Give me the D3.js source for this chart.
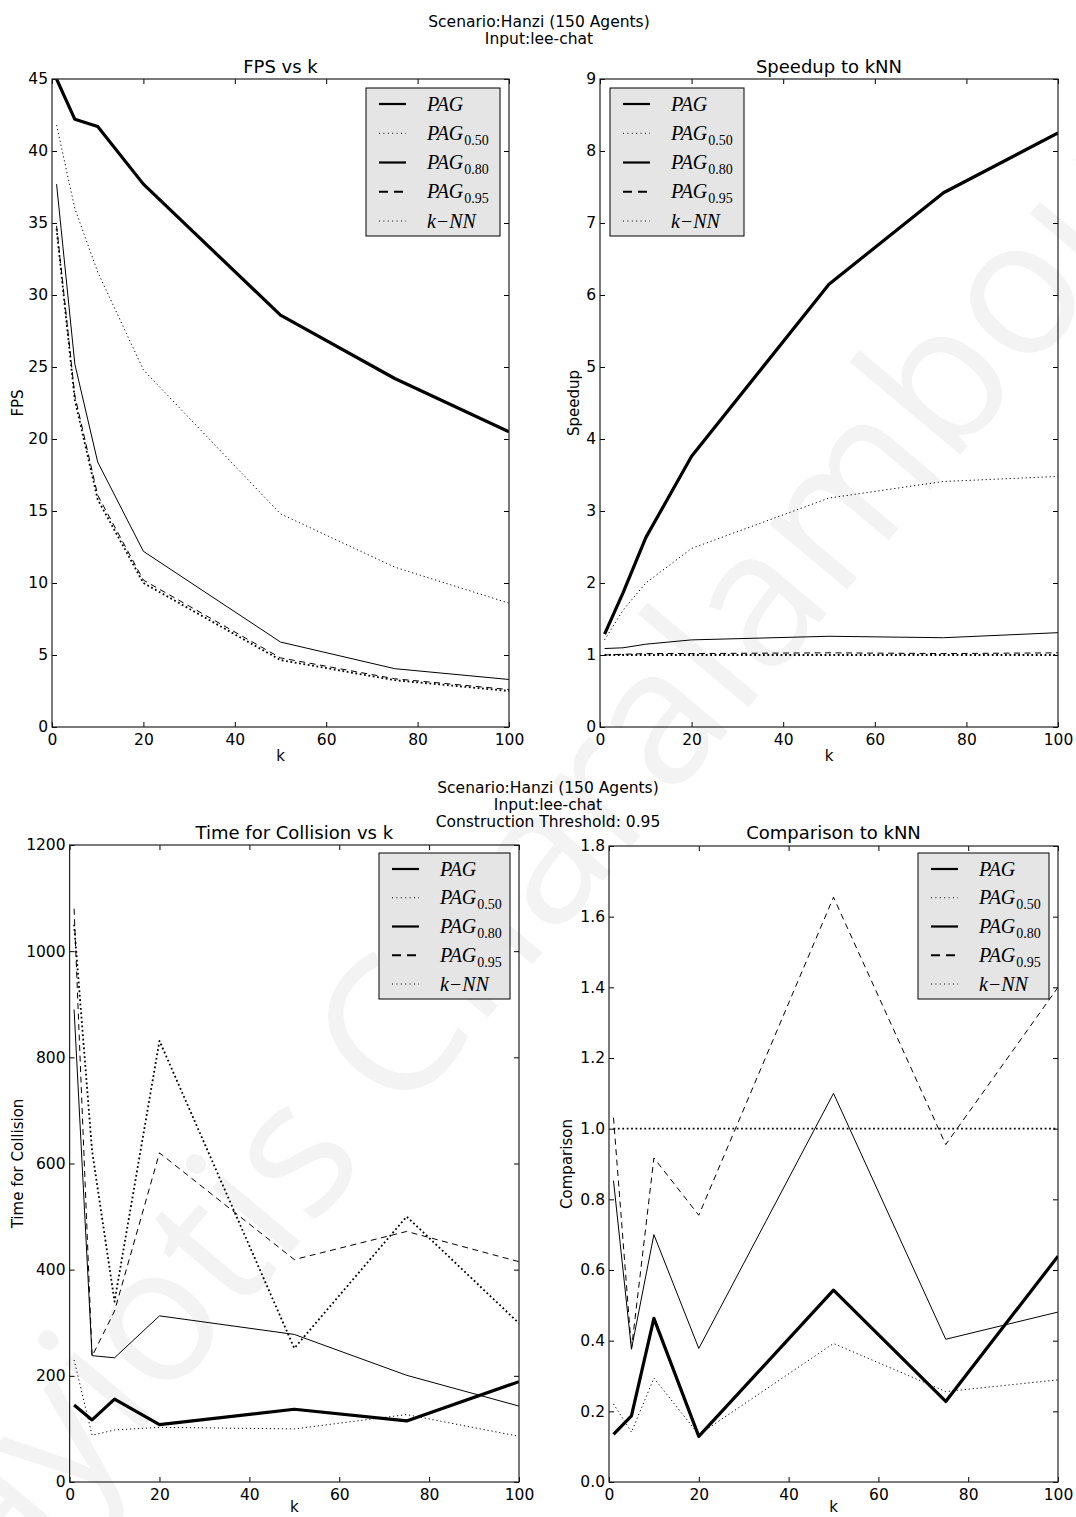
<!DOCTYPE html>
<html>
<head>
<meta charset="utf-8">
<script src="https://cdn.jsdelivr.net/npm/d3@7"></script>
<style>
  body { margin: 0; background: #fff; }
  svg { display: block; }
  text { font-family: "DejaVu Sans", sans-serif; fill: #000; }
</style>
</head>
<body>
<svg id="fig" width="1076" height="1517"></svg>
<script>
// k values (number of nearest neighbours) used in every experiment
const ks = [1, 5, 10, 20, 50, 75, 100];

// Frames per second
const fpsPAG    = [45.0, 42.2, 41.7, 37.7, 28.6, 24.2, 20.5];
const fpsPAG050 = [41.8, 36.0, 31.6, 24.8, 14.8, 11.1, 8.6];
const fpsPAG080 = [37.7, 25.2, 18.4, 12.2, 5.9, 4.05, 3.3];
const fpsPAG095 = [34.8, 23.0, 16.1, 10.2, 4.8, 3.35, 2.6];
const fpsKNN    = [34.6, 22.7, 15.8, 10.0, 4.65, 3.25, 2.5];

// Speedup relative to k-NN
const spPAG    = [1.29, 1.86, 2.63, 3.76, 6.15, 7.42, 8.25];
const spPAG050 = [1.21, 1.62, 2.00, 2.48, 3.18, 3.41, 3.48];
const spPAG080 = [1.09, 1.10, 1.15, 1.21, 1.26, 1.24, 1.31];
const spPAG095 = [1.00, 1.01, 1.02, 1.02, 1.03, 1.02, 1.03];
const spKNN    = [1.00, 1.00, 1.00, 1.00, 1.00, 1.00, 1.00];

// Time for collision
const tcPAG    = [145, 117, 156, 108, 137, 115, 189];
const tcPAG050 = [230, 88, 98, 103, 100, 127, 86];
const tcPAG080 = [890, 238, 234, 313, 278, 201, 143];
const tcPAG095 = [1080, 237, 322, 620, 419, 472, 415];
const tcKNN    = [1050, 624, 340, 831, 252, 500, 299];

// Comparison relative to k-NN
const cmPAG    = [0.135, 0.187, 0.463, 0.129, 0.543, 0.228, 0.639];
const cmPAG050 = [0.221, 0.141, 0.294, 0.134, 0.392, 0.256, 0.289];
const cmPAG080 = [0.853, 0.376, 0.700, 0.378, 1.100, 0.404, 0.481];
const cmPAG095 = [1.031, 0.376, 0.917, 0.755, 1.655, 0.955, 1.400];
const cmKNN    = [1.00, 1.00, 1.00, 1.00, 1.00, 1.00, 1.00];

// Tick values
const kTicks   = [0, 20, 40, 60, 80, 100];
const fpsTicks = [0, 5, 10, 15, 20, 25, 30, 35, 40, 45];
const spTicks  = [0, 1, 2, 3, 4, 5, 6, 7, 8, 9];
const tcTicks  = [0, 200, 400, 600, 800, 1000, 1200];
const cmTicks  = [0.0, 0.2, 0.4, 0.6, 0.8, 1.0, 1.2, 1.4, 1.6, 1.8];

// Series order and legend labels
const seriesKeys = ["PAG", "PAG050", "PAG080", "PAG095", "kNN"];
const legendSubs = [null, "0.50", "0.80", "0.95", null];

// Drawing styles per series
const lineStyle = {
  PAG:    { width: 3.2, dash: null },
  PAG050: { width: 1.0, dash: "1.2,2.8" },
  PAG080: { width: 1.0, dash: null },
  PAG095: { width: 1.0, dash: "6,4.5" },
  kNN:    { width: 1.8, dash: "1.8,2.6" }
};
const legendStyle = {
  PAG:    { width: 2.2, dash: null },
  PAG050: { width: 1.0, dash: "1,3.4" },
  PAG080: { width: 2.2, dash: null },
  PAG095: { width: 2.0, dash: "9,6" },
  kNN:    { width: 1.0, dash: "1,3.4" }
};

const svg = d3.select("#fig");

// Faint diagonal name across the whole sheet, behind the plots
svg.append("text")
  .attr("transform", "translate(470,960) rotate(-50)")
  .attr("text-anchor", "middle")
  .attr("dominant-baseline", "middle")
  .style("font-family", "'Open Sans', 'DejaVu Sans', sans-serif")
  .style("font-size", "190px")
  .style("fill", "#f3f3f3")
  .text("Panayiotis Charalambous");

// Figure-level headings
function heading(cx, lines, firstBaseline, step) {
  lines.forEach((t, i) => {
    svg.append("text")
      .attr("x", cx).attr("y", firstBaseline + i * step)
      .attr("text-anchor", "middle")
      .style("font-size", "15.5px")
      .text(t);
  });
}
heading(539, ["Scenario:Hanzi (150 Agents)", "Input:lee-chat"], 26.5, 17.5);
heading(548, ["Scenario:Hanzi (150 Agents)", "Input:lee-chat", "Construction Threshold: 0.95"], 793, 17);

const panels = [
  {
    id: "fps", x0: 52, x1: 509, y0: 79, y1: 727,
    yDomain: [0, 45], yTicks: fpsTicks, yFmt: d3.format("d"),
    title: "FPS vs k", titleY: 73, ylabel: "FPS", ylabelX: 18, xlabelY: 761,
    data: { PAG: fpsPAG, PAG050: fpsPAG050, PAG080: fpsPAG080, PAG095: fpsPAG095, kNN: fpsKNN },
    legend: { x: 366, y: 88, w: 134, h: 148 }
  },
  {
    id: "speedup", x0: 600, x1: 1058, y0: 79, y1: 727,
    yDomain: [0, 9], yTicks: spTicks, yFmt: d3.format("d"),
    title: "Speedup to kNN", titleY: 73, ylabel: "Speedup", ylabelX: 574, xlabelY: 761,
    data: { PAG: spPAG, PAG050: spPAG050, PAG080: spPAG080, PAG095: spPAG095, kNN: spKNN },
    legend: { x: 610, y: 88, w: 134, h: 148 }
  },
  {
    id: "ttc", x0: 69.6, x1: 519, y0: 845, y1: 1482,
    yDomain: [0, 1200], yTicks: tcTicks, yFmt: d3.format("d"),
    title: "Time for Collision vs k", titleY: 839, ylabel: "Time for Collision", ylabelX: 18, xlabelY: 1512,
    data: { PAG: tcPAG, PAG050: tcPAG050, PAG080: tcPAG080, PAG095: tcPAG095, kNN: tcKNN },
    legend: { x: 379, y: 853, w: 131, h: 146 }
  },
  {
    id: "cmp", x0: 609, x1: 1058, y0: 846, y1: 1482,
    yDomain: [0, 1.8], yTicks: cmTicks, yFmt: d3.format(".1f"),
    title: "Comparison to kNN", titleY: 839, ylabel: "Comparison", ylabelX: 567, xlabelY: 1512,
    data: { PAG: cmPAG, PAG050: cmPAG050, PAG080: cmPAG080, PAG095: cmPAG095, kNN: cmKNN },
    legend: { x: 918, y: 853, w: 131, h: 146 }
  }
];

panels.forEach(p => {
  const x = d3.scaleLinear().domain([0, 100]).range([p.x0, p.x1]);
  const y = d3.scaleLinear().domain(p.yDomain).range([p.y1, p.y0]);
  const g = svg.append("g").attr("class", "panel-" + p.id);

  // clip lines to the axes area
  const clipId = "clip-" + p.id;
  g.append("clipPath").attr("id", clipId)
    .append("rect")
    .attr("x", p.x0).attr("y", p.y0)
    .attr("width", p.x1 - p.x0).attr("height", p.y1 - p.y0);

  // series
  const line = d3.line().x((d, i) => x(ks[i])).y(d => y(d));
  const lines = g.append("g").attr("clip-path", `url(#${clipId})`);
  seriesKeys.forEach(key => {
    const st = lineStyle[key];
    lines.append("path")
      .datum(p.data[key])
      .attr("d", line)
      .attr("fill", "none")
      .attr("stroke", "#000")
      .attr("stroke-width", st.width)
      .attr("stroke-linejoin", "round")
      .attr("stroke-dasharray", st.dash);
  });

  // axes: ticks pointing inward on all four sides
  const tickLen = 5;
  const fontPx = "15.5px";
  const bottom = g.append("g").attr("transform", `translate(0,${p.y1})`)
    .call(d3.axisBottom(x).tickValues(kTicks).tickSize(-tickLen).tickPadding(7).tickFormat(d3.format("d")));
  const top = g.append("g").attr("transform", `translate(0,${p.y0})`)
    .call(d3.axisTop(x).tickValues(kTicks).tickSize(-tickLen).tickFormat(""));
  const left = g.append("g").attr("transform", `translate(${p.x0},0)`)
    .call(d3.axisLeft(y).tickValues(p.yTicks).tickSize(-tickLen).tickPadding(4).tickFormat(p.yFmt));
  const right = g.append("g").attr("transform", `translate(${p.x1},0)`)
    .call(d3.axisRight(y).tickValues(p.yTicks).tickSize(-tickLen).tickFormat(""));
  [bottom, top, left, right].forEach(a => {
    a.select(".domain").remove();
    a.selectAll("line").attr("stroke", "#000").attr("stroke-width", 1);
    a.selectAll("text").style("font-family", "'DejaVu Sans', sans-serif").style("font-size", fontPx).attr("fill", "#000");
  });

  // frame
  g.append("rect")
    .attr("x", p.x0).attr("y", p.y0)
    .attr("width", p.x1 - p.x0).attr("height", p.y1 - p.y0)
    .attr("fill", "none").attr("stroke", "#222").attr("stroke-width", 1.2);

  // titles and axis labels
  g.append("text")
    .attr("x", (p.x0 + p.x1) / 2).attr("y", p.titleY)
    .attr("text-anchor", "middle").style("font-size", "18px")
    .text(p.title);
  g.append("text")
    .attr("x", (p.x0 + p.x1) / 2).attr("y", p.xlabelY)
    .attr("text-anchor", "middle").style("font-size", "15px")
    .text("k");
  g.append("text")
    .attr("transform", `translate(${p.ylabelX},${(p.y0 + p.y1) / 2}) rotate(-90)`)
    .attr("text-anchor", "middle").attr("dy", "0.35em").style("font-size", "15px")
    .text(p.ylabel);

  // legend
  const L = p.legend;
  const lg = g.append("g").attr("transform", `translate(${L.x},${L.y})`);
  lg.append("rect")
    .attr("width", L.w).attr("height", L.h)
    .attr("fill", "#e5e5e5").attr("stroke", "#000").attr("stroke-width", 1);
  const rowStep = (L.h - 31) / 4;
  seriesKeys.forEach((key, i) => {
    const ry = 16 + i * rowStep;
    const st = legendStyle[key];
    lg.append("line")
      .attr("x1", 13).attr("x2", 40).attr("y1", ry).attr("y2", ry)
      .attr("stroke", "#000").attr("stroke-width", st.width)
      .attr("stroke-dasharray", st.dash);
    const t = lg.append("text")
      .attr("x", 61).attr("y", ry + 6.5)
      .style("font-family", "'Liberation Serif', 'DejaVu Serif', serif")
      .style("font-size", "20px");
    if (key === "kNN") {
      t.append("tspan").style("font-style", "italic").text("k");
      t.append("tspan").attr("dx", 1).text("\u2212");
      t.append("tspan").attr("dx", 1).style("font-style", "italic").text("NN");
    } else {
      t.append("tspan").style("font-style", "italic").text("PAG");
      if (legendSubs[i]) {
        t.append("tspan").attr("dy", 5).attr("dx", 1).style("font-size", "14px").text(legendSubs[i]);
      }
    }
  });
});
</script>
</body>
</html>
